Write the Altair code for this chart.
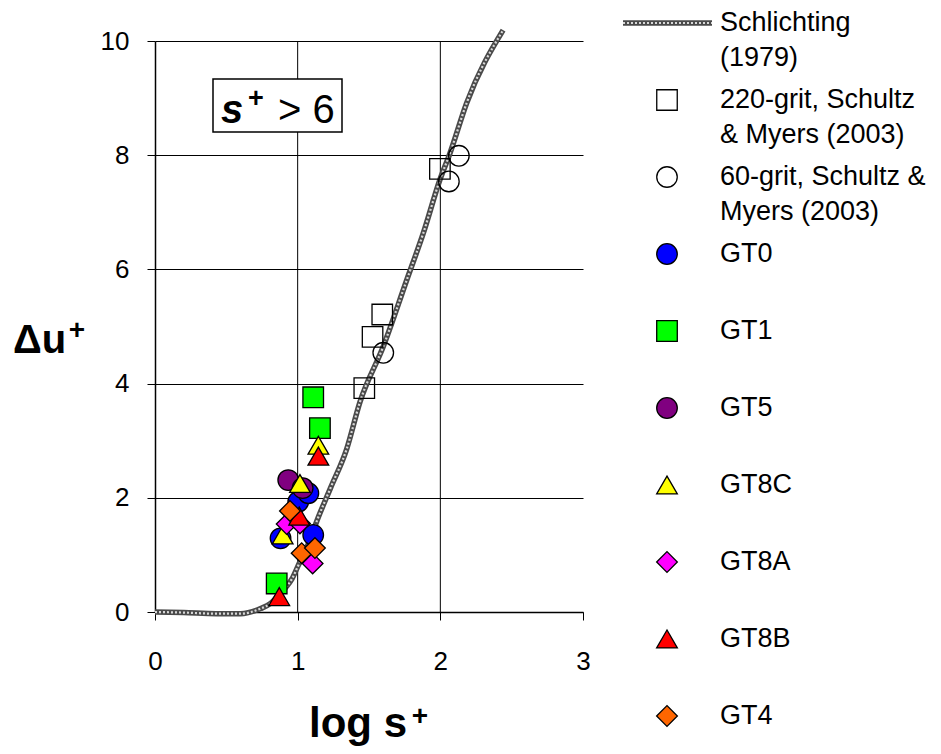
import altair as alt
import pandas as pd

# ---------------- data ----------------
curve_x = [0.0, 0.2, 0.43, 0.6, 0.74, 0.81, 0.87, 0.92, 0.96, 1.005, 1.086, 1.137,
           1.23, 1.343, 1.437, 1.6, 1.764, 1.88, 1.997, 2.067, 2.184, 2.44]
curve_y = [0.0, -0.01, -0.03, -0.03, 0.06, 0.15, 0.30, 0.44, 0.58, 0.82, 1.26, 1.61,
           2.17, 2.85, 3.68, 4.65, 5.81, 6.63, 7.57, 8.03, 8.91, 10.19]

s220_x = [1.467, 1.525, 1.593, 1.997]
s220_y = [3.92, 4.82, 5.21, 7.76]
s60_x = [1.600, 2.060, 2.130]
s60_y = [4.54, 7.54, 7.99]
gt0_x = [0.880, 1.004, 1.075, 1.109]
gt0_y = [1.29, 1.93, 2.08, 1.35]
gt1_x = [0.853, 1.109, 1.156]
gt1_y = [0.50, 3.76, 3.22]
gt5_x = [0.934, 1.035]
gt5_y = [2.31, 2.17]
gt8c_x = [0.895, 1.016, 1.145]
gt8c_y = [1.35, 2.25, 2.92]
gt8a_x = [0.923, 1.016, 1.105]
gt8a_y = [1.54, 1.55, 0.85]
gt8b_x = [0.871, 1.011, 1.145]
gt8b_y = [0.27, 1.68, 2.73]
gt4_x = [0.946, 1.028, 1.121]
gt4_y = [1.77, 1.03, 1.12]

series_names = ["220-grit", "60-grit", "GT0", "GT1", "GT5", "GT8C", "GT8A", "GT8B", "GT4"]
series_x = [s220_x, s60_x, gt0_x, gt1_x, gt5_x, gt8c_x, gt8a_x, gt8b_x, gt4_x]
series_y = [s220_y, s60_y, gt0_y, gt1_y, gt5_y, gt8c_y, gt8a_y, gt8b_y, gt4_y]

legend_line1 = ["Schlichting", "220-grit, Schultz", "60-grit, Schultz &", "GT0", "GT1",
                "GT5", "GT8C", "GT8A", "GT8B", "GT4"]
legend_line2 = ["(1979)", "& Myers (2003)", "Myers (2003)", "", "", "", "", "", "", ""]

x_ticks = [0, 1, 2, 3]
y_ticks = [0, 2, 4, 6, 8, 10]
x_grid = [1, 2]

# ---------------- styles ----------------
shape_range = ["square", "circle", "circle", "square", "circle", "triangle-up",
               "diamond", "triangle-up", "diamond"]
fill_range = ["transparent", "transparent", "#0000ff", "#00ff00", "#800080", "#ffff00",
              "#ff00ff", "#ff0000", "#ff6600"]
size_range = [420, 430, 320, 320, 320, 460, 380, 460, 380]
FONT = "Liberation Sans"

# ---------------- tables ----------------
pts = pd.DataFrame({
    "series": [n for n, xs in zip(series_names, series_x) for _ in xs],
    "x": [v for xs in series_x for v in xs],
    "y": [v for ys in series_y for v in ys],
})
pts["order"] = range(len(pts))
curve = pd.DataFrame({"x": curve_x, "y": curve_y})
grid_df = pd.DataFrame({"g": x_grid})
leg = pd.DataFrame({"row": list(range(len(legend_line1))),
                    "l1": legend_line1, "l2": legend_line2})
leg_sym = leg.iloc[1:].copy()
leg_sym["series"] = series_names
one = pd.DataFrame({"a": [0]})

xscale = alt.Scale(domain=[0, 3], nice=False, zero=False)
yscale = alt.Scale(domain=[0, 10], nice=False, zero=False)
row_scale = alt.Scale(domain=[0, 9], range=[-18, 675])
shape_enc = alt.Shape("series:N", scale=alt.Scale(domain=series_names, range=shape_range), legend=None)
fill_enc = alt.Fill("series:N", scale=alt.Scale(domain=series_names, range=fill_range), legend=None)
size_enc = alt.Size("series:N", scale=alt.Scale(domain=series_names, range=size_range), legend=None)

x_axis = alt.Axis(values=x_ticks, title=None, grid=False, domainColor="black", domainWidth=1.5,
                  tickColor="black", tickSize=8, tickWidth=1, labelFont=FONT, labelFontSize=26,
                  labelColor="black", labelPadding=28, labelFlush=False, format="d")
y_axis = alt.Axis(values=y_ticks, title=None, grid=True, gridColor="black", gridWidth=1,
                  domainColor="black", domainWidth=1.5, tickColor="black", tickSize=8,
                  labelFont=FONT, labelFontSize=26, labelColor="black", labelPadding=18,
                  labelFlush=False, format="d")

vgrid = alt.Chart(grid_df).mark_rule(color="black", strokeWidth=1).encode(
    x=alt.X("g:Q", scale=xscale, axis=x_axis))

curve_base = alt.Chart(curve).mark_line(color="#4a4a4a", strokeWidth=5.5, interpolate="monotone").encode(
    x=alt.X("x:Q", scale=xscale, axis=x_axis),
    y=alt.Y("y:Q", scale=yscale, axis=y_axis))
curve_top = alt.Chart(curve).mark_line(color="#d8d8d8", strokeWidth=2.2, strokeDash=[2, 2],
                                       interpolate="monotone").encode(
    x=alt.X("x:Q", scale=xscale, axis=x_axis),
    y=alt.Y("y:Q", scale=yscale, axis=None))

points = alt.Chart(pts).mark_point(filled=True, stroke="black", strokeWidth=1.3, opacity=1).encode(
    x=alt.X("x:Q", scale=xscale, axis=x_axis),
    y=alt.Y("y:Q", scale=yscale, axis=None),
    shape=shape_enc, fill=fill_enc, size=size_enc,
    order=alt.Order("order:Q"))

# annotation box
box = alt.Chart(one).mark_rect(fill="white", stroke="black", strokeWidth=1.5).encode(
    x=alt.value(58), x2=alt.value(187), y=alt.value(38), y2=alt.value(91))
box_s = alt.Chart(one).mark_text(text="s", font=FONT, fontSize=40, fontWeight="bold",
                                 fontStyle="italic", align="left", baseline="alphabetic",
                                 color="black").encode(x=alt.value(66), y=alt.value(82))
box_plus = alt.Chart(one).mark_text(text="+", font=FONT, fontSize=27, fontWeight="bold",
                                    align="center", baseline="alphabetic",
                                    color="black").encode(x=alt.value(101), y=alt.value(66))
box_rest = alt.Chart(one).mark_text(text="> 6", font=FONT, fontSize=40, align="left",
                                    baseline="alphabetic", color="black").encode(
    x=alt.value(123), y=alt.value(82))

# axis titles
ytitle = alt.Chart(one).mark_text(text="Δu", font=FONT, fontSize=40, fontWeight="bold",
                                  align="left", baseline="alphabetic", color="black").encode(
    x=alt.value(-142), y=alt.value(312))
ytitle_p = alt.Chart(one).mark_text(text="+", font=FONT, fontSize=28, fontWeight="bold",
                                    align="center", baseline="alphabetic", color="black").encode(
    x=alt.value(-78), y=alt.value(298))
xtitle = alt.Chart(one).mark_text(text="log s", font=FONT, fontSize=42, fontWeight="bold",
                                  align="left", baseline="alphabetic", color="black").encode(
    x=alt.value(154), y=alt.value(696))
xtitle_p = alt.Chart(one).mark_text(text="+", font=FONT, fontSize=28, fontWeight="bold",
                                    align="center", baseline="alphabetic", color="black").encode(
    x=alt.value(265), y=alt.value(684))

# legend
leg_line_base = alt.Chart(leg.iloc[:1]).mark_rule(color="#4a4a4a", strokeWidth=5.5).encode(
    x=alt.value(468), x2=alt.value(557), y=alt.Y("row:Q", scale=row_scale, axis=None))
leg_line_top = alt.Chart(leg.iloc[:1]).mark_rule(color="#d8d8d8", strokeWidth=2.2,
                                                 strokeDash=[2, 2]).encode(
    x=alt.value(468), x2=alt.value(557), y=alt.Y("row:Q", scale=row_scale, axis=None))
leg_symbols = alt.Chart(leg_sym).mark_point(filled=True, stroke="black", strokeWidth=1.3,
                                            opacity=1).encode(
    x=alt.value(512), y=alt.Y("row:Q", scale=row_scale, axis=None),
    shape=shape_enc, fill=fill_enc, size=size_enc)
leg_text1 = alt.Chart(leg).mark_text(font=FONT, fontSize=27, align="left", baseline="middle",
                                     color="black").encode(
    x=alt.value(565), y=alt.Y("row:Q", scale=row_scale, axis=None), text="l1:N")
leg_text2 = alt.Chart(leg).mark_text(font=FONT, fontSize=27, align="left", baseline="middle",
                                     color="black", dy=35).encode(
    x=alt.value(565), y=alt.Y("row:Q", scale=row_scale, axis=None), text="l2:N")

chart = alt.layer(
    vgrid, curve_base, curve_top, points, box, box_s, box_plus, box_rest,
    ytitle, ytitle_p, xtitle, xtitle_p,
    leg_line_base, leg_line_top, leg_symbols, leg_text1, leg_text2,
).resolve_scale(y="independent").properties(
    width=428, height=571,
    autosize=alt.AutoSizeParams(type="none"),
    padding={"left": 147, "top": 33, "right": 350, "bottom": 134},
).configure_view(strokeWidth=0)

chart.save("out.html", embed_options={"renderer": "svg", "actions": False})
